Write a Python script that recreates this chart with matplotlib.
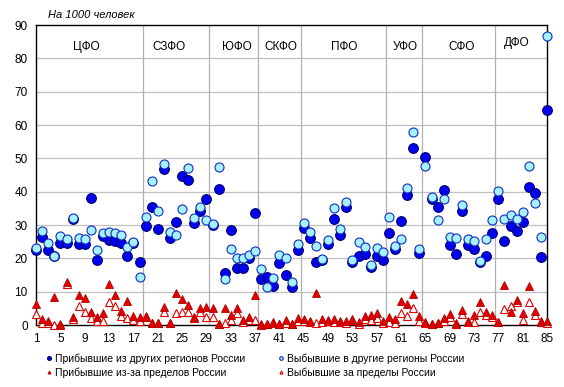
import numpy as np
import matplotlib
matplotlib.use('Agg')
import matplotlib.pyplot as plt

plt.rcParams['font.family'] = ['Liberation Sans', 'DejaVu Sans']

# region numbers 1..85
regions = np.arange(1, 86)

arr_russia = [22.5, 26.3, 22.5, 20.7, 24.7, 24.7, 31.8, 24.2, 24.3, 38.0,
              19.5, 26.7, 25.5, 25.2, 24.5, 20.8, 24.7, 19.0,
              29.8, 35.3, 28.7, 46.8, 26.2, 30.8, 44.8, 43.4, 30.7, 34.3, 37.7,
              30.0, 40.9, 15.7, 28.5, 17.2, 17.2, 20.2, 33.5,
              13.7, 14.3, 11.7, 18.5, 15.0, 11.4, 22.5,
              29.2, 26.0, 18.8, 19.4, 24.3, 31.9, 27.1, 35.5, 18.8, 20.7, 21.4, 17.5, 20.6, 19.5,
              27.5, 22.7, 31.2, 38.9, 53.0, 21.7,
              50.4, 37.7, 35.3, 40.4, 24.0, 21.3, 34.1, 23.9, 22.8, 19.0, 20.7, 27.5,
              37.7, 25.2, 29.7, 28.3, 30.8, 41.3, 39.5, 20.3, 64.4]

dep_russia = [23.0, 28.3, 24.7, 20.7, 26.7, 25.8, 32.1, 26.2, 25.9, 28.4,
              22.5, 27.5, 28.0, 27.7, 27.0, 23.5, 25.0, 14.5,
              32.5, 43.2, 34.2, 48.3, 28.0, 27.0, 34.8, 47.1, 32.0, 35.3, 31.5,
              30.2, 47.5, 13.9, 22.7, 20.0, 20.2, 21.0, 22.3,
              16.8, 11.3, 14.0, 21.0, 20.2, 13.0, 24.3,
              30.7, 28.0, 23.8, 19.7, 25.5, 35.0, 28.7, 36.9, 19.5, 25.0, 23.3, 18.1, 23.2, 22.0,
              32.4, 23.7, 25.8, 41.2, 58.0, 22.9,
              47.7, 38.5, 31.6, 37.8, 26.5, 26.2, 36.1, 25.7, 25.1, 19.2, 25.7, 31.6,
              40.3, 31.9, 33.0, 31.7, 34.0, 47.8, 36.7, 26.5, 86.8]

arr_abroad = [6.4, 1.8, 1.3, 8.3, 0.3, 12.8, 2.3, 8.9, 8.0, 3.8,
              2.3, 3.5, 12.2, 8.9, 4.1, 7.3, 2.7, 2.4,
              2.7, 0.7, 0.7, 5.5, 0.7, 9.7, 7.7, 5.9, 2.4, 5.0, 5.3,
              5.0, 0.3, 5.0, 3.0, 5.0, 1.5, 2.4, 8.9,
              0.2, 0.3, 0.9, 0.4, 1.4, 0.3, 2.2,
              1.9, 1.3, 9.7, 1.9, 1.4, 1.9, 1.2, 1.1, 1.8, 1.0, 2.8, 2.9, 3.5, 1.3,
              2.3, 1.7, 7.3, 6.2, 9.3, 2.7,
              0.8, 0.3, 0.7, 2.0, 3.3, 0.5, 4.6, 1.3, 3.0, 6.8, 3.9, 3.1,
              1.0, 11.9, 4.0, 7.4, 3.5, 11.7, 4.3, 1.2, 1.2]

dep_abroad = [3.3, 0.7, 0.5, 0.0, 0.0, 12.3, 1.9, 5.7, 3.8, 2.0,
              1.2, 1.3, 7.0, 5.7, 2.8, 2.0, 1.6, 1.3,
              2.3, 0.5, 0.5, 3.8, 0.5, 3.5, 3.8, 3.8, 2.0, 3.8, 2.5,
              2.5, 0.2, 0.6, 1.6, 3.5, 0.9, 1.4, 1.6,
              0.1, 0.2, 0.6, 0.3, 0.7, 0.2, 1.3,
              1.3, 1.0, 0.5, 1.0, 1.1, 1.0, 1.0, 0.5, 1.5, 0.3, 1.9, 1.5, 2.0, 0.7,
              1.0, 0.7, 3.7, 2.8, 5.0, 1.3,
              0.6, 0.2, 0.5, 1.2, 2.5, 0.3, 3.3, 1.0, 1.0, 4.0, 3.0, 2.5,
              0.8, 4.7, 5.8, 7.0, 1.6, 7.0, 3.0, 0.9, 0.6]

districts = ['ЦФО', 'СЗФО', 'ЮФО', 'СКФО', 'ПФО', 'УФО', 'СФО', 'ДФО']
district_pos = [9.2, 22.8, 34.0, 41.3, 51.6, 61.6, 71.0, 80.0]
separators = [18.5, 29.5, 37.5, 44.5, 58.5, 64.5, 76.5]

fig = plt.figure(figsize=(5.64, 3.87), dpi=100)
ax = fig.add_axes([0.064, 0.160, 0.906, 0.775])

for y in range(10, 90, 10):
    ax.axhline(y, color='#c0c0c0', lw=0.9, zorder=0)
for s in separators:
    ax.axvline(s, color='#b0b0b0', lw=0.9, zorder=0)

ax.plot(regions, arr_russia, 'o', ms=7, mfc='#0000ee', mec='#000070', mew=0.8,
        clip_on=False, zorder=3, label='Прибывшие из других регионов России')
ax.plot(regions, dep_russia, 'o', ms=6.5, mfc='#a6f0ff', mec='#1030c0', mew=0.8,
        clip_on=False, zorder=4, label='Выбывшие в другие регионы России')
ax.plot(regions, arr_abroad, '^', ms=5.5, mfc='#e00000', mec='#b00000', mew=0.6,
        clip_on=False, zorder=5, label='Прибывшие из-за пределов России')
ax.plot(regions, dep_abroad, '^', ms=5.5, mfc='white', mec='#e00000', mew=0.8,
        clip_on=False, zorder=4, label='Выбывшие за пределы России')

for name, xpos in zip(districts, district_pos):
    yy = 84.5 if name == 'ДФО' else 83.5
    ax.text(xpos, yy, name, ha='center', va='center', fontsize=8.5)

ax.set_xlim(1, 85)
ax.set_ylim(0, 90)
ax.set_xticks(range(1, 86, 4))
ax.set_yticks(range(0, 91, 10))
ax.tick_params(length=0, labelsize=8.5, pad=6)
for sp in ax.spines.values():
    sp.set_color('black')
    sp.set_linewidth(1.0)

fig.text(0.085, 0.962, 'На 1000 человек', fontsize=8, style='italic',
         ha='left', va='center')

handles, labels = ax.get_legend_handles_labels()
order = [0, 2, 1, 3]
fig.legend([handles[i] for i in order], [labels[i] for i in order],
           loc='lower left', bbox_to_anchor=(0.065, 0.0), ncol=2, frameon=False,
           fontsize=7.5, markerscale=0.4, handlelength=0.5, handletextpad=0.35,
           columnspacing=3.2, labelspacing=0.35)

fig.savefig('out.png', dpi=100)
